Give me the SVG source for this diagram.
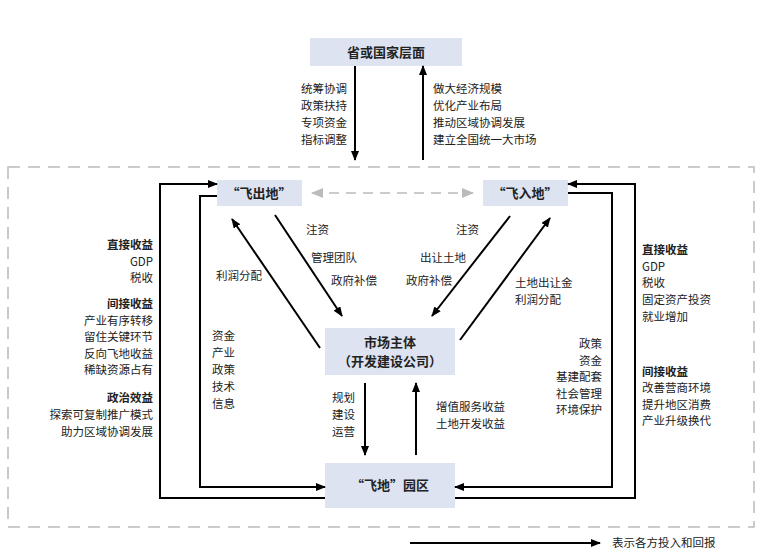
<svg xmlns="http://www.w3.org/2000/svg" width="762" height="557" viewBox="0 0 762 557">
<defs>
<marker id="ah" markerWidth="10" markerHeight="8" refX="9" refY="4" orient="auto" markerUnits="userSpaceOnUse"><path d="M0,0 L10,4 L0,8 z" fill="#000"/></marker>
<marker id="ag" markerWidth="12" markerHeight="10" refX="11" refY="5" orient="auto" markerUnits="userSpaceOnUse"><path d="M0,0 L12,5 L0,10 z" fill="#bbb"/></marker>
<marker id="ags" markerWidth="12" markerHeight="10" refX="1" refY="5" orient="auto" markerUnits="userSpaceOnUse"><path d="M12,0 L0,5 L12,10 z" fill="#bbb"/></marker>
</defs>
<style>
text{font-family:"Noto Sans CJK SC","Liberation Sans",sans-serif;font-size:11.5px;fill:#222}
.b{font-weight:bold}
.bt{font-weight:bold;font-size:13px;text-anchor:middle}
.r{text-anchor:end}
.box{fill:#dde3f0}
.ln{fill:none;stroke:#000;stroke-width:2;marker-end:url(#ah)}
</style>
<rect width="762" height="557" fill="#fff"/>
<rect x="8" y="167" width="746" height="360" fill="none" stroke="#bbb" stroke-width="1.5" stroke-dasharray="12,8"/>
<g id="top"><rect class="box" x="310" y="38" width="152" height="28"/><text class="bt" x="386" y="57">省或国家层面</text></g>
<g id="out"><rect class="box" x="217" y="180" width="85" height="26"/><text class="bt" x="259" y="198">“飞出地”</text></g>
<g id="in"><rect class="box" x="483" y="180" width="85" height="26"/><text class="bt" x="525" y="198">“飞入地”</text></g>
<g id="market"><rect class="box" x="325" y="328" width="130" height="47"/><text class="bt" x="390" y="347">市场主体</text><text class="bt" x="390" y="366">（开发建设公司）</text></g>
<g id="park"><rect class="box" x="325" y="463" width="130" height="45"/><text class="bt" x="390" y="490">“飞地”园区</text></g>
<g id="connectors">
<line x1="312" y1="193" x2="473" y2="193" stroke="#bbb" stroke-width="1.5" stroke-dasharray="10,7" marker-end="url(#ag)" marker-start="url(#ags)"/>
<line class="ln" x1="355" y1="66" x2="355" y2="160"/>
<line class="ln" x1="423" y1="160" x2="423" y2="66"/>
<polyline class="ln" points="325,498 160,498 160,184 217,184"/>
<polyline class="ln" points="217,196 200,196 200,487 325,487"/>
<polyline class="ln" points="455,498 635,498 635,184 568,184"/>
<polyline class="ln" points="568,193 612,193 612,487 455,487"/>
<line class="ln" x1="275" y1="215" x2="342" y2="316"/>
<line class="ln" x1="320" y1="348" x2="232" y2="219"/>
<line class="ln" x1="510" y1="216" x2="432" y2="316"/>
<line class="ln" x1="460" y1="340" x2="550" y2="218"/>
<line class="ln" x1="365" y1="383" x2="365" y2="455"/>
<line class="ln" x1="416" y1="455" x2="416" y2="383"/>
<line class="ln" x1="410" y1="543" x2="600" y2="543"/>
</g>
<g id="labels">
<text class="r" x="347" y="93">统筹协调</text><text class="r" x="347" y="110">政策扶持</text><text class="r" x="347" y="127">专项资金</text><text class="r" x="347" y="144">指标调整</text>
<text x="433" y="93">做大经济规模</text><text x="433" y="110">优化产业布局</text><text x="433" y="127">推动区域协调发展</text><text x="433" y="144">建立全国统一大市场</text>
<text class="r b" x="153" y="249">直接收益</text><text class="r" x="153" y="266">GDP</text><text class="r" x="153" y="282">税收</text>
<text class="r b" x="153" y="308">间接收益</text><text class="r" x="153" y="325">产业有序转移</text><text class="r" x="153" y="341">留住关键环节</text><text class="r" x="153" y="358">反向飞地收益</text><text class="r" x="153" y="374">稀缺资源占有</text>
<text class="r b" x="153" y="402">政治效益</text><text class="r" x="153" y="419">探索可复制推广模式</text><text class="r" x="153" y="436">助力区域协调发展</text>
<text x="216" y="280">利润分配</text>
<text x="212" y="340">资金</text><text x="212" y="357">产业</text><text x="212" y="374">政策</text><text x="212" y="391">技术</text><text x="212" y="408">信息</text>
<text x="306" y="234">注资</text><text x="311" y="262">管理团队</text><text x="331" y="285">政府补偿</text>
<text class="r" x="479" y="234">注资</text><text class="r" x="466" y="262">出让土地</text><text class="r" x="452" y="285">政府补偿</text>
<text x="515" y="287">土地出让金</text><text x="515" y="304">利润分配</text>
<text class="r" x="602" y="348">政策</text><text class="r" x="602" y="365">资金</text><text class="r" x="602" y="381">基建配套</text><text class="r" x="602" y="398">社会管理</text><text class="r" x="602" y="414">环境保护</text>
<text class="b" x="642" y="254">直接收益</text><text x="642" y="271">GDP</text><text x="642" y="287">税收</text><text x="642" y="304">固定资产投资</text><text x="642" y="321">就业增加</text>
<text class="b" x="642" y="376">间接收益</text><text x="642" y="392">改善营商环境</text><text x="642" y="409">提升地区消费</text><text x="642" y="425">产业升级换代</text>
<text x="332" y="402">规划</text><text x="332" y="419">建设</text><text x="332" y="436">运营</text>
<text x="436" y="411">增值服务收益</text><text x="436" y="428">土地开发收益</text>
<text x="612" y="547">表示各方投入和回报</text>
</g>
</svg>
